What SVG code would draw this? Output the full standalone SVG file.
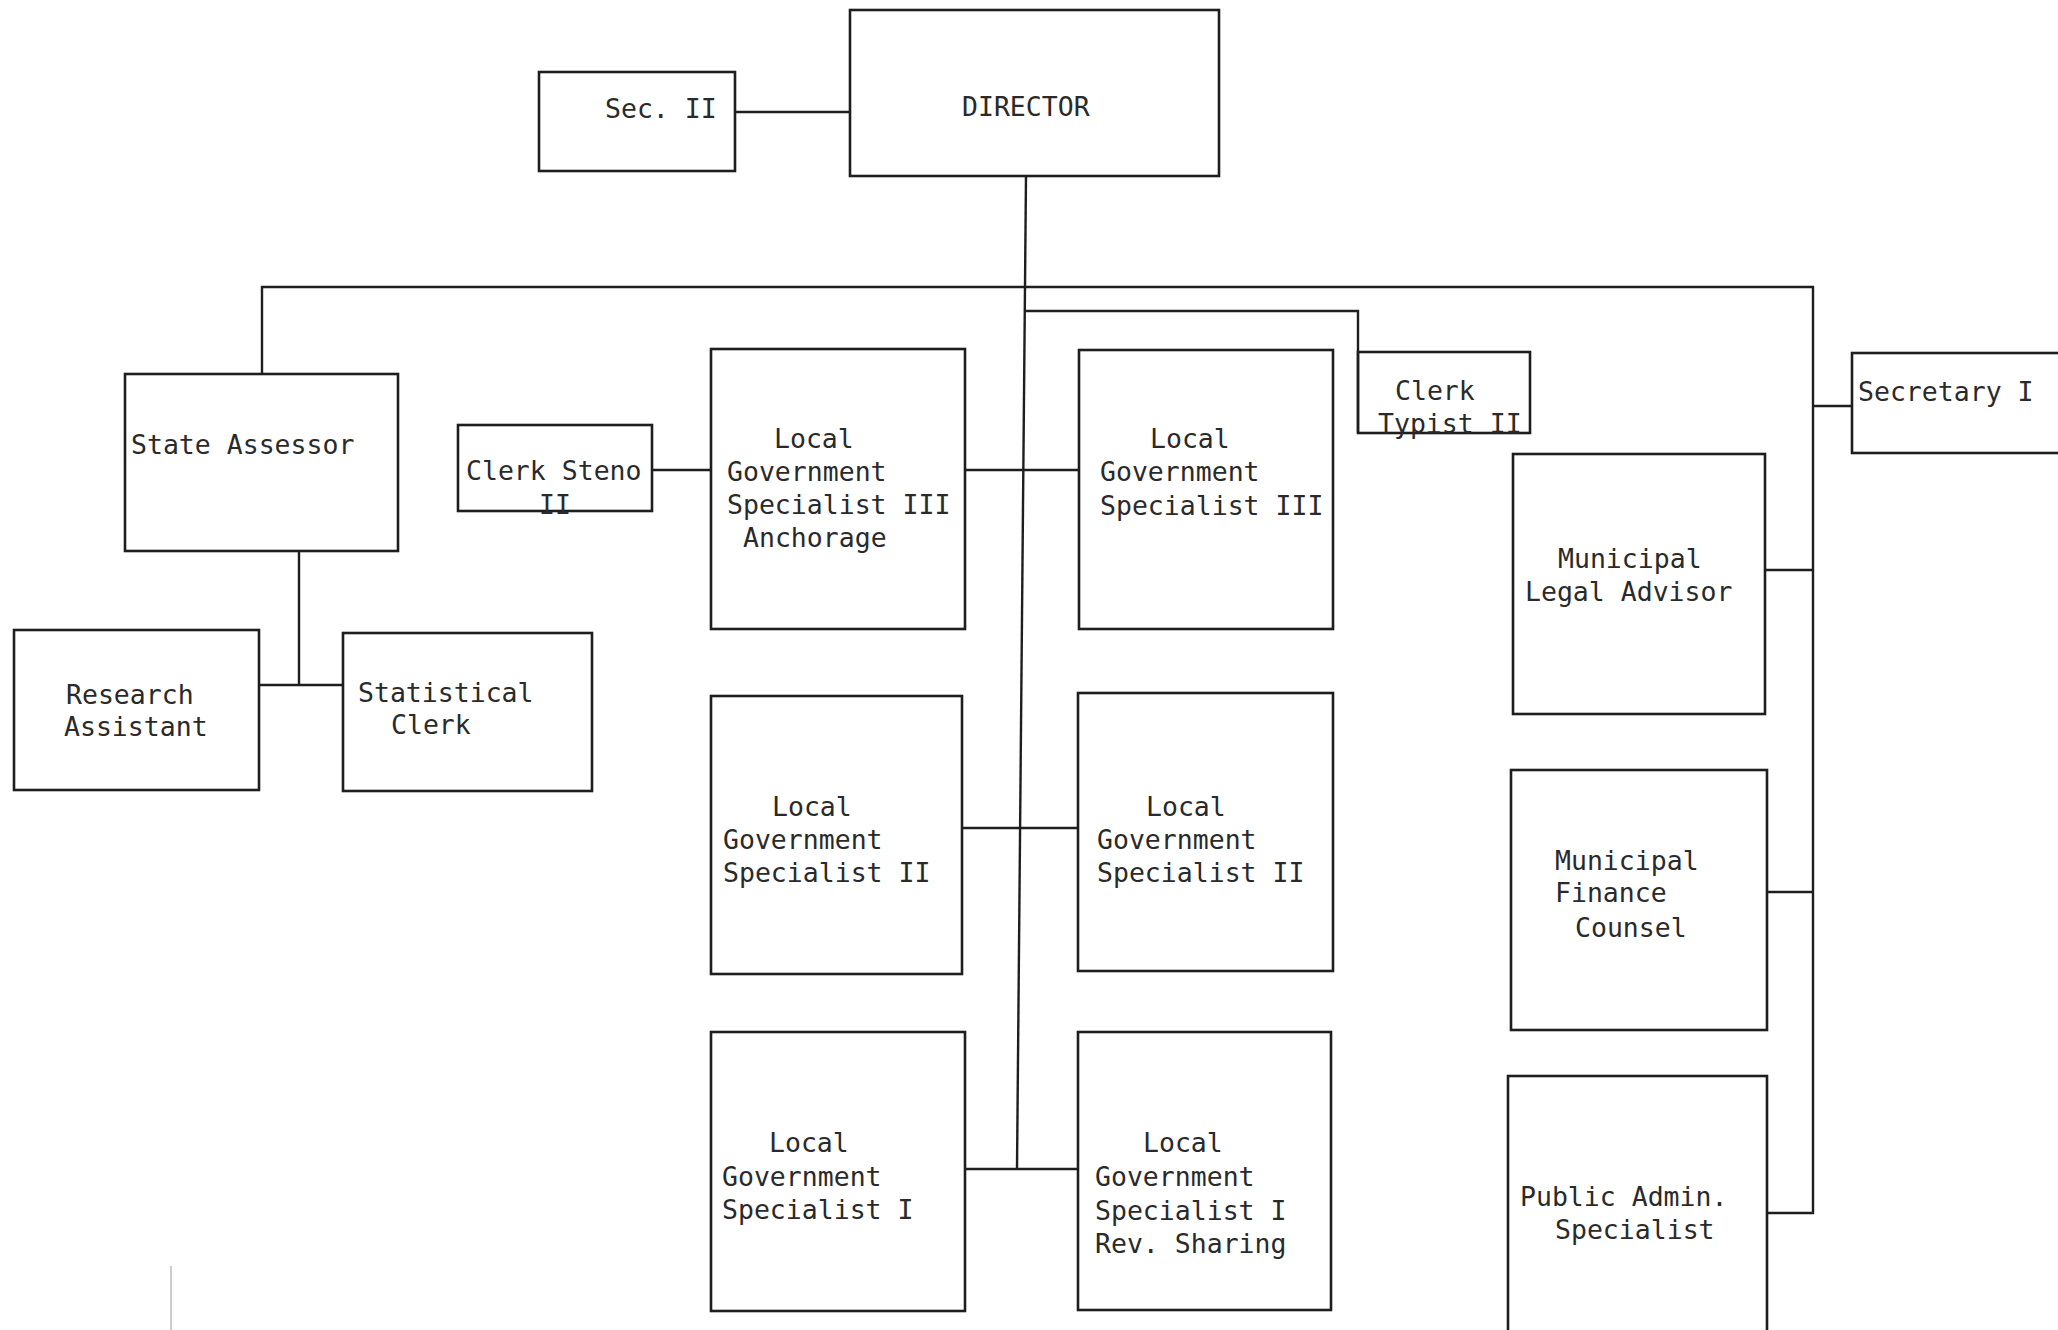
<svg xmlns="http://www.w3.org/2000/svg" width="2058" height="1330" viewBox="0 0 2058 1330">
<style>
.box{fill:none;stroke:#1e1e1e;stroke-width:2.6}
.ln{fill:none;stroke:#1e1e1e;stroke-width:2.4}
text{font-family:"DejaVu Sans Mono","Liberation Mono",monospace;font-size:26.5px;fill:#2a2a2a}
</style>
<rect width="2058" height="1330" fill="#ffffff"/>
<g id="connectors">
<line class="ln" x1="735" y1="112" x2="850" y2="112"/>
<polyline class="ln" points="1026,176 1017,1169"/>
<polyline class="ln" points="262,374 262,287 1813,287 1813,1213 1767,1213"/>
<polyline class="ln" points="1026,311 1358,311 1358,433"/>
<line class="ln" x1="1813" y1="406" x2="1852" y2="406"/>
<line class="ln" x1="1765" y1="570" x2="1813" y2="570"/>
<line class="ln" x1="1767" y1="892" x2="1813" y2="892"/>
<line class="ln" x1="299" y1="551" x2="299" y2="685"/>
<line class="ln" x1="259" y1="685" x2="343" y2="685"/>
<line class="ln" x1="652" y1="470" x2="711" y2="470"/>
<line class="ln" x1="965" y1="470" x2="1079" y2="470"/>
<line class="ln" x1="962" y1="828" x2="1078" y2="828"/>
<line class="ln" x1="965" y1="1169" x2="1078" y2="1169"/>
</g>
<g id="director"><rect class="box" x="850" y="10" width="369" height="166"/><text x="962" y="116">DIRECTOR</text></g>
<g id="sec2"><rect class="box" x="539" y="72" width="196" height="99"/><text x="605" y="118">Sec. II</text></g>
<g id="state-assessor"><rect class="box" x="125" y="374" width="273" height="177"/><text x="131" y="454">State Assessor</text></g>
<g id="research-assistant"><rect class="box" x="14" y="630" width="245" height="160"/><text x="66" y="704">Research</text><text x="64" y="736">Assistant</text></g>
<g id="statistical-clerk"><rect class="box" x="343" y="633" width="249" height="158"/><text x="358" y="702">Statistical</text><text x="391" y="734">Clerk</text></g>
<g id="clerk-steno"><rect class="box" x="458" y="425" width="194" height="86"/><text x="466" y="480">Clerk Steno</text><text x="539" y="514">II</text></g>
<g id="lgs3-anchorage"><rect class="box" x="711" y="349" width="254" height="280"/><text x="774" y="448">Local</text><text x="727" y="481">Government</text><text x="727" y="514">Specialist III</text><text x="743" y="547">Anchorage</text></g>
<g id="lgs3"><rect class="box" x="1079" y="350" width="254" height="279"/><text x="1150" y="448">Local</text><text x="1100" y="481">Government</text><text x="1100" y="515">Specialist III</text></g>
<g id="clerk-typist"><rect class="box" x="1358" y="352" width="172" height="81"/><text x="1395" y="400">Clerk</text><text x="1378" y="433">Typist II</text></g>
<g id="secretary1"><rect class="box" x="1852" y="353" width="260" height="100"/><text x="1858" y="401">Secretary I</text></g>
<g id="legal-advisor"><rect class="box" x="1513" y="454" width="252" height="260"/><text x="1558" y="568">Municipal</text><text x="1525" y="601">Legal Advisor</text></g>
<g id="lgs2-left"><rect class="box" x="711" y="696" width="251" height="278"/><text x="772" y="816">Local</text><text x="723" y="849">Government</text><text x="723" y="882">Specialist II</text></g>
<g id="lgs2-right"><rect class="box" x="1078" y="693" width="255" height="278"/><text x="1146" y="816">Local</text><text x="1097" y="849">Government</text><text x="1097" y="882">Specialist II</text></g>
<g id="finance-counsel"><rect class="box" x="1511" y="770" width="256" height="260"/><text x="1555" y="870">Municipal</text><text x="1555" y="902">Finance</text><text x="1575" y="937">Counsel</text></g>
<g id="lgs1-left"><rect class="box" x="711" y="1032" width="254" height="279"/><text x="769" y="1152">Local</text><text x="722" y="1186">Government</text><text x="722" y="1219">Specialist I</text></g>
<g id="lgs1-rev"><rect class="box" x="1078" y="1032" width="253" height="278"/><text x="1143" y="1152">Local</text><text x="1095" y="1186">Government</text><text x="1095" y="1220">Specialist I</text><text x="1095" y="1253">Rev. Sharing</text></g>
<g id="public-admin"><rect class="box" x="1508" y="1076" width="259" height="300"/><text x="1520" y="1206">Public Admin.</text><text x="1555" y="1239">Specialist</text></g>
<line x1="171" y1="1266" x2="171" y2="1330" stroke="#bbbbbb" stroke-width="1.5"/>
</svg>
